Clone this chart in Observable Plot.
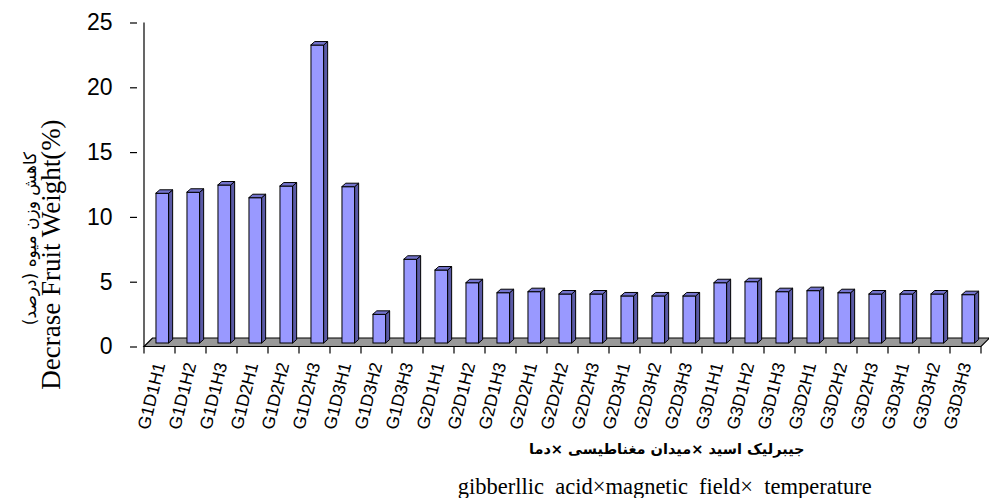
<!DOCTYPE html>
<html><head><meta charset="utf-8">
<script src="https://cdn.jsdelivr.net/npm/d3@7"></script>
<script src="https://cdn.jsdelivr.net/npm/@observablehq/plot@0.6"></script>
<style>body{margin:0;background:#fff}</style>
</head><body><div id="chart"></div>
<script>
const categories = ["G1D1H1","G1D1H2","G1D1H3","G1D2H1","G1D2H2","G1D2H3","G1D3H1","G1D3H2","G1D3H3",
  "G2D1H1","G2D1H2","G2D1H3","G2D2H1","G2D2H2","G2D2H3","G2D3H1","G2D3H2","G2D3H3",
  "G3D1H1","G3D1H2","G3D1H3","G3D2H1","G3D2H2","G3D2H3","G3D3H1","G3D3H2","G3D3H3"];
const values = [11.55,11.63,12.19,11.21,12.11,22.99,12.06,2.21,6.46,
  5.63,4.65,3.88,3.96,3.78,3.78,3.63,3.63,3.63,
  4.65,4.73,3.96,4.04,3.88,3.78,3.78,3.78,3.73];
const yTicks = [0,5,10,15,20,25];
const yTitleEn = "Decrase Fruit Weight(%)";
const yTitleFa = "کاهش وزن میوه (درصد)";
const xTitleFa = "جیبرلیک اسید ×میدان مغناطیسی ×دما";
const xTitleEn = "gibberllic\u00a0 acid×magnetic\u00a0 field×\u00a0 temperature";

const data = categories.map((c, i) => ({cat: c, v: values[i]}));

const FRONT_L = 0.38, FRONT_R = 0.795; // fractions of band
const DX = 4, DY = -3.5;                // bar depth
const FDX = 8.5, FDY = -8.5;            // floor depth
const BASE = -3.5;                      // bars sit mid-floor

function floorMark(index, scales, values, dims) {
  const x = scales.x, y = scales.y;
  const step = x(categories[1]) - x(categories[0]);
  const x0 = x(categories[0]);
  const x1 = x0 + step * categories.length;
  const y0 = y(0);
  const g = d3.create("svg:g");
  g.append("path")
    .attr("d", `M${x0},${y0}L${x1},${y0}L${x1 + FDX},${y0 + FDY}L${x0 + FDX},${y0 + FDY}Z`)
    .attr("fill", "#999999").attr("stroke", "#000").attr("stroke-width", 1.2);
  g.append("line").attr("x1", x0).attr("x2", x0).attr("y1", y(25)).attr("y2", y0)
    .attr("stroke", "#000").attr("stroke-width", 1.2);
  for (let i = 0; i <= categories.length; i++) {
    const xi = x0 + step * i;
    g.append("line").attr("x1", xi).attr("x2", xi).attr("y1", y0).attr("y2", y0 + 7)
      .attr("stroke", "#000").attr("stroke-width", 1.2);
  }
  return g.node();
}

function facesMark(index, scales) {
  const x = scales.x, y = scales.y;
  const step = x(categories[1]) - x(categories[0]);
  const g = d3.create("svg:g").attr("stroke", "#000").attr("stroke-width", 1).attr("stroke-linejoin", "round");
  data.forEach(d => {
    const xs = x(d.cat);
    const xl = xs + step * FRONT_L, xr = xs + step * FRONT_R;
    const yb = y(0) + BASE, yt = y(d.v) + BASE;
    g.append("path")
      .attr("d", `M${xr},${yb}L${xr + DX},${yb + DY}L${xr + DX},${yt + DY}L${xr},${yt}Z`)
      .attr("fill", "#5a5aa6");
    g.append("path")
      .attr("d", `M${xl},${yt}L${xl + DX},${yt + DY}L${xr + DX},${yt + DY}L${xr},${yt}Z`)
      .attr("fill", "#7373cc");
  });
  return g.node();
}

const W = 989, H = 498;
const chart = Plot.plot({
  width: W, height: H,
  marginLeft: 137, marginRight: 1.5, marginTop: 22.5, marginBottom: 151.5,
  style: {fontFamily: "Liberation Sans, Arial, sans-serif", background: "#fff", color: "#000"},
  x: {type: "band", domain: categories, padding: 0, axis: null},
  y: {domain: [0, 25], axis: null},
  marks: [
    floorMark,
    Plot.barY(data, {
      x: "cat", y: "v", fill: "#9999ff", stroke: "#000", strokeWidth: 1,
      insetLeft: 31.5 * FRONT_L, insetRight: 31.5 * (1 - FRONT_R), dy: BASE
    }),
    facesMark,
    Plot.axisY(yTicks, {tickSize: 7, tickPadding: 18, fontSize: 23, label: null, strokeWidth: 1.2,
      fontFamily: "Liberation Sans, Arial, sans-serif"}),
    Plot.text(categories, {
      x: d => d, y: () => 0, text: d => d, rotate: -76, textAnchor: "end", lineAnchor: "middle",
      dx: 0, dy: 16, fontSize: 17.5, fontFamily: "Liberation Sans, Arial, sans-serif"
    }),
    Plot.text([yTitleEn], {
      frameAnchor: "left", text: d => d, rotate: -90, textAnchor: "middle", dx: -86, dy: 69.5,
      fontSize: 27, fontFamily: "Liberation Serif, Times New Roman, serif"
    }),
    Plot.text([yTitleFa], {
      frameAnchor: "left", text: d => d, rotate: -90, textAnchor: "middle", dx: -107, dy: 53.5,
      fontSize: 17, fontFamily: "DejaVu Sans, sans-serif"
    }),
    Plot.text([xTitleFa], {
      frameAnchor: "bottom", text: d => d, dx: 104, dy: 107,
      fontSize: 14.5, fontWeight: "bold", fontFamily: "DejaVu Sans, sans-serif"
    }),
    Plot.text([xTitleEn], {
      frameAnchor: "bottom", text: d => d, dx: 102, dy: 147,
      fontSize: 22.5, fontFamily: "Liberation Serif, Times New Roman, serif"
    })
  ]
});
document.getElementById("chart").appendChild(chart);
</script>
</body></html>
